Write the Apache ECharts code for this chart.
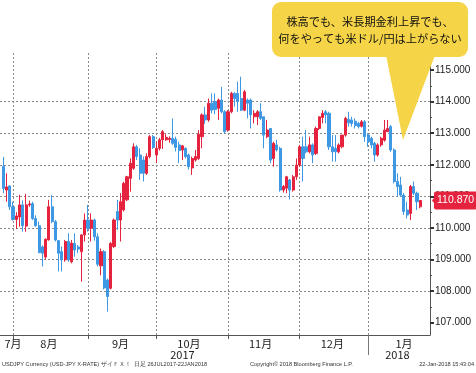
<!DOCTYPE html>
<html><head><meta charset="utf-8">
<script src="https://cdn.jsdelivr.net/npm/echarts@6/dist/echarts.min.js"></script>
<style>html,body{margin:0;padding:0;background:#fff}#c{width:476px;height:373px}</style>
</head><body><div id="c"></div>
<script>
// Trading-day categories (first slot is an empty slot before the data starts; last slots are empty future days)
const dates = [
'2017-07-25','2017-07-26','2017-07-27','2017-07-28','2017-07-31',
'2017-08-01','2017-08-02','2017-08-03','2017-08-04','2017-08-07','2017-08-08','2017-08-09','2017-08-10','2017-08-11',
'2017-08-14','2017-08-15','2017-08-16','2017-08-17','2017-08-18','2017-08-21','2017-08-22','2017-08-23','2017-08-24','2017-08-25',
'2017-08-28','2017-08-29','2017-08-30','2017-08-31',
'2017-09-01','2017-09-04','2017-09-05','2017-09-06','2017-09-07','2017-09-08','2017-09-11','2017-09-12','2017-09-13','2017-09-14','2017-09-15',
'2017-09-18','2017-09-19','2017-09-20','2017-09-21','2017-09-22','2017-09-25','2017-09-26','2017-09-27','2017-09-28','2017-09-29',
'2017-10-02','2017-10-03','2017-10-04','2017-10-05','2017-10-06','2017-10-09','2017-10-10','2017-10-11','2017-10-12','2017-10-13',
'2017-10-16','2017-10-17','2017-10-18','2017-10-19','2017-10-20','2017-10-23','2017-10-24','2017-10-25','2017-10-26','2017-10-27','2017-10-30','2017-10-31',
'2017-11-01','2017-11-02','2017-11-03','2017-11-06','2017-11-07','2017-11-08','2017-11-09','2017-11-10','2017-11-13','2017-11-14','2017-11-15','2017-11-16','2017-11-17',
'2017-11-20','2017-11-21','2017-11-22','2017-11-23','2017-11-24','2017-11-27','2017-11-28','2017-11-29','2017-11-30',
'2017-12-01','2017-12-04','2017-12-05','2017-12-06','2017-12-07','2017-12-08','2017-12-11','2017-12-12','2017-12-13','2017-12-14','2017-12-15',
'2017-12-18','2017-12-19','2017-12-20','2017-12-21','2017-12-22','2017-12-25','2017-12-26','2017-12-27','2017-12-28','2017-12-29',
'2018-01-01','2018-01-02','2018-01-03','2018-01-04','2018-01-05','2018-01-08','2018-01-09','2018-01-10','2018-01-11','2018-01-12',
'2018-01-15','2018-01-16','2018-01-17','2018-01-18','2018-01-19','2018-01-22','2018-01-23','2018-01-24','2018-01-25'
];
const firstDataIndex = 1; // 2017-07-26

const opens = [
111.95,111.20,111.33,110.67,110.27,110.35,110.73,110.06,110.73,110.77,110.30,110.07,109.40,109.08,109.62,110.67,110.20,109.60,109.25,108.99,
109.57,108.93,109.51,109.40,109.25,109.78,110.25,109.99,110.25,109.72,108.80,109.25,108.35,108.09,109.41,110.52,110.25,110.57,110.89,111.57,
111.89,112.57,112.31,112.15,111.73,112.26,112.89,112.31,112.52,112.79,112.79,112.80,112.84,112.81,112.63,112.47,112.52,112.31,111.90,112.15,
112.20,112.89,113.58,113.42,113.95,114.00,113.79,114.05,113.68,113.10,113.68,114.26,114.26,114.10,113.73,114.05,114.05,113.52,113.52,113.68,
113.52,112.89,113.15,112.20,112.63,112.52,111.20,111.26,111.52,111.20,111.62,111.99,112.57,112.57,112.41,112.63,112.36,113.15,113.50,113.68,
113.63,112.57,112.52,112.41,112.57,112.94,113.44,113.42,113.38,113.31,113.22,113.36,112.94,112.84,112.68,112.31,112.63,112.78,113.05,113.21,
112.47,111.47,111.36,111.04,110.57,110.46,111.31,111.10,110.67
];
const closes = [
111.25,111.30,110.67,110.27,110.38,110.73,110.07,110.73,110.76,110.30,110.07,109.22,109.20,109.64,110.67,110.20,109.62,109.20,108.99,109.57,
108.99,109.52,109.30,109.33,109.78,110.25,109.99,110.25,109.72,108.85,109.25,108.10,107.83,109.51,110.25,110.25,110.83,111.41,111.62,112.05,
112.57,112.26,111.73,111.73,112.26,112.89,112.55,112.52,112.79,113.05,112.87,112.84,112.68,112.55,112.45,112.60,112.26,111.94,112.20,112.26,
112.97,113.58,113.42,113.95,113.73,113.75,114.05,113.68,113.05,113.68,114.26,114.10,114.00,113.73,114.31,113.95,113.58,113.63,113.68,113.47,
112.94,113.10,112.15,112.68,112.47,111.20,111.31,111.62,111.20,111.62,111.99,112.57,112.20,112.41,112.63,112.31,113.15,113.52,113.63,113.58,
112.57,112.41,112.41,112.63,112.94,113.47,113.33,113.31,113.24,113.21,113.36,112.89,112.73,112.63,112.31,112.63,112.84,113.10,113.15,112.47,
111.47,111.31,111.04,110.52,110.41,111.31,111.10,110.83,110.87
];
const lows = [
111.10,110.83,110.57,110.23,109.97,110.04,109.88,109.88,110.67,110.25,110.04,109.20,108.78,109.00,109.60,110.15,109.57,108.62,108.62,108.93,
108.93,108.88,109.09,109.20,108.30,109.57,109.88,109.57,109.60,108.78,108.50,108.05,107.35,108.05,109.36,109.94,109.57,110.52,110.85,111.15,
111.84,112.15,111.52,111.47,111.68,112.20,112.50,112.05,112.45,112.50,112.76,112.70,112.63,112.42,112.05,112.15,112.20,111.85,111.68,112.10,
112.15,112.52,113.30,113.36,113.63,113.60,113.42,113.63,113.00,113.05,113.63,113.84,113.68,113.70,113.70,113.47,113.15,113.31,113.26,113.42,
112.52,112.84,112.05,111.94,112.42,111.15,111.12,111.10,110.90,111.15,111.52,111.94,111.47,112.36,112.36,112.05,112.31,113.10,113.31,113.31,
112.47,112.10,112.10,112.36,112.52,112.89,113.21,113.21,113.15,113.15,113.18,112.73,112.57,112.52,112.10,112.26,112.57,112.73,113.05,112.41,
111.41,111.00,110.99,110.41,110.30,110.25,111.04,110.57,110.62
];
const highs = [
112.25,111.73,111.35,110.83,110.50,111.05,110.87,111.08,110.87,110.83,110.40,110.20,109.45,109.67,110.89,111.04,110.25,109.62,109.41,109.62,
109.83,109.62,109.83,109.46,109.80,110.46,110.73,110.46,110.30,109.83,109.35,109.30,108.40,109.55,110.30,110.89,111.10,111.46,111.65,112.20,
112.68,112.63,112.52,112.26,112.36,112.94,112.94,112.73,112.85,113.10,112.97,112.90,113.47,112.89,112.73,112.63,112.55,112.36,112.26,112.47,
113.10,113.63,113.84,114.10,114.26,114.26,114.10,114.47,113.73,113.73,114.31,114.30,114.63,114.79,114.37,114.10,114.10,113.73,113.73,113.95,
113.52,113.42,113.15,112.73,112.79,112.57,111.36,111.65,111.55,111.68,112.20,112.63,112.89,113.10,112.89,112.68,113.21,113.52,113.73,113.73,
113.68,112.94,112.94,112.68,112.94,113.52,113.68,113.52,113.47,113.36,113.42,113.42,113.00,112.89,112.73,112.68,112.89,113.42,113.42,113.26,
112.52,111.73,111.62,111.10,110.83,111.36,111.47,111.15,110.88
];

const majorTicks = [107,108,109,110,111,112,113,114,115];
const minorTicks = [107.5,108.5,109.5,110.5,111.5,112.5,113.5,114.5];
const monthNames = ['1月','2月','3月','4月','5月','6月','7月','8月','9月','10月','11月','12月'];
const calloutText = ['株高でも、米長期金利上昇でも、','何をやっても米ドル/円は上がらない'];
const footerLeft = 'USDJPY Currency (USD-JPY X-RATE) ザイＦＸ！  日足 26JUL2017-22JAN2018';
const footerMid = 'Copyright\u00A9 2018 Bloomberg Finance L.P.';
const footerRight = '22-Jan-2018 15:43:04';

const UP = '#e5233f', DOWN = '#3f98e4';

const candles = dates.map((d, i) => {
  const j = i - firstDataIndex;
  if (j < 0 || j >= opens.length) return ['-','-','-','-'];
  return [opens[j], closes[j], lows[j], highs[j]];
});
const lastClose = closes[closes.length - 1];

// month / year helpers
const ym = d => d.slice(0, 7);
const mon = d => parseInt(d.slice(5, 7), 10);
const yr = d => d.slice(0, 4);
function isMonthEnd(i) { return i < dates.length - 1 && ym(dates[i]) !== ym(dates[i + 1]); }
function isYearEnd(i) { return i < dates.length - 1 && yr(dates[i]) !== yr(dates[i + 1]); }
function weekdaysInMonth(y, m) {
  let n = 0; const d = new Date(Date.UTC(y, m, 1));
  while (d.getUTCMonth() === m) { const w = d.getUTCDay(); if (w > 0 && w < 6) n++; d.setUTCDate(d.getUTCDate() + 1); }
  return n;
}
function weekdayOrdinal(s) {
  const y = +s.slice(0,4), m = +s.slice(5,7) - 1, day = +s.slice(8,10);
  let n = 0; const d = new Date(Date.UTC(y, m, 1));
  while (d.getUTCDate() <= day && d.getUTCMonth() === m) { const w = d.getUTCDay(); if (w > 0 && w < 6) n++; d.setUTCDate(d.getUTCDate() + 1); }
  return n;
}
const monthLabelIdx = new Set();
(function () {
  const seen = {};
  dates.forEach((d, i) => { const k = ym(d); if (!seen[k]) seen[k] = { first: i, last: i }; else seen[k].last = i; });
  Object.keys(seen).forEach(k => {
    const s = seen[k];
    const y = +k.slice(0, 4), m = +k.slice(5, 7) - 1;
    const start = s.first - (weekdayOrdinal(dates[s.first]) - 1);
    const end = start + weekdaysInMonth(y, m) - 1;
    let mid = Math.floor((start - 1 + end) / 2 - 0.25);
    if (mid < 0 || mid > dates.length - 1) mid = s.last;
    monthLabelIdx.add(mid);
  });
})();
const yearLabelIdx = new Set();
(function () {
  const seen = {};
  dates.forEach((d, i) => { const k = yr(d); if (!seen[k]) seen[k] = { first: i, last: i }; else seen[k].last = i; });
  Object.keys(seen).forEach(k => {
    const s = seen[k];
    const a = s.first > 0 ? s.first - 1 : 0;
    yearLabelIdx.add(Math.floor((a + s.last) / 2));
  });
})();

const chart = echarts.init(document.getElementById('c'), null, { renderer: 'canvas' });
const axisFont = 'Liberation Sans, Arial, sans-serif';
const cjkFont = '"Noto Sans CJK JP", sans-serif';

chart.setOption({
  animation: false,
  backgroundColor: '#fff',
  grid: { left: 0, right: 46, top: 53, bottom: 38, containLabel: false },
  xAxis: [{
    type: 'category', data: dates, boundaryGap: false,
    axisLine: { show: true, lineStyle: { color: '#555', width: 1 } },
    axisTick: { show: true, interval: (i) => isMonthEnd(i), length: 4, lineStyle: { color: '#555' } },
    axisLabel: {
      show: true, interval: (i) => monthLabelIdx.has(i),
      formatter: (v) => monthNames[mon(v) - 1],
      fontSize: 11, color: '#222', fontFamily: cjkFont, margin: 3
    },
    splitLine: { show: true, interval: (i) => isMonthEnd(i), lineStyle: { color: '#8a8a8a', type: [2, 2], width: 1 } }
  }, {
    type: 'category', data: dates, boundaryGap: false, position: 'bottom',
    axisLine: { show: false },
    axisTick: { show: true, interval: (i) => isYearEnd(i), length: 20, lineStyle: { color: '#777' } },
    axisLabel: {
      show: true, interval: (i) => yearLabelIdx.has(i),
      formatter: (v) => yr(v), fontSize: 11, color: '#222', fontFamily: cjkFont, margin: 14
    },
    splitLine: { show: false }
  }],
  yAxis: [{
    type: 'value', position: 'right', min: 106.61, max: 115.54, scale: true,
    axisLine: { show: true, lineStyle: { color: '#555', width: 1 } },
    axisTick: { show: true, customValues: majorTicks, length: 4, lineStyle: { color: '#333', width: 2 } },
    axisLabel: { show: true, customValues: majorTicks, formatter: (v) => v.toFixed(3), fontSize: 10, color: '#222', fontFamily: axisFont, margin: 5 },
    splitLine: { show: true, showMinLine: false, showMaxLine: false, lineStyle: { color: '#8a8a8a', type: [2, 2], width: 1 } }
  }, {
    type: 'value', position: 'right', min: 106.61, max: 115.54, scale: true,
    axisLine: { show: false },
    axisTick: { show: true, customValues: minorTicks, length: 2, lineStyle: { color: '#555', width: 1 } },
    axisLabel: { show: false },
    splitLine: { show: false }
  }],
  series: [{
    type: 'candlestick', xAxisIndex: 0, yAxisIndex: 0, z: 5,
    data: candles, barWidth: 2.6,
    itemStyle: { color: UP, color0: DOWN, borderColor: UP, borderColor0: DOWN, borderWidth: 1 },
    markLine: {
      silent: true, symbol: ['none', 'none'], z: 10,
      lineStyle: { color: 'rgba(0,0,0,0)', width: 0 },
      data: [{ yAxis: lastClose }],
      label: {
        show: true, position: 'end', distance: 4,
        formatter: (p) => Number(p.value).toFixed(3),
        color: '#fff', backgroundColor: UP, padding: [4, 3, 3, 3], borderRadius: 2,
        fontSize: 10.5, fontFamily: axisFont
      }
    },
    markPoint: {
      silent: true, z: 10,
      data: [{ coord: [dates[dates.length - 1], lastClose], symbol: 'triangle', symbolSize: [15, 6], symbolRotate: 90, symbolOffset: [5, 0],
               itemStyle: { color: UP }, label: { show: false } }]
    }
  }],
  graphic: [
    { type: 'rect', z: 100, shape: { x: 272, y: 2, width: 196, height: 55, r: 9 }, style: { fill: '#f6d447' } },
    { type: 'polygon', z: 100, shape: { points: [[385, 50], [437, 50], [403, 140]] }, style: { fill: '#f6d447' } },
    { type: 'text', z: 101, style: { text: calloutText.join('\n'), x: 370, y: 30, align: 'center', verticalAlign: 'middle',
        font: '11.2px "Noto Sans CJK JP", sans-serif', lineHeight: 17, fill: '#111' } },
    { type: 'text', z: 101, style: { text: footerLeft, x: 2, y: 364, verticalAlign: 'middle', font: '5.6px "Liberation Sans", sans-serif', fill: '#333' } },
    { type: 'text', z: 101, style: { text: footerMid, x: 250, y: 364, verticalAlign: 'middle', font: '5.6px "Liberation Sans", sans-serif', fill: '#333' } },
    { type: 'text', z: 101, style: { text: footerRight, x: 474, y: 364, align: 'right', verticalAlign: 'middle', font: '5.6px "Liberation Sans", sans-serif', fill: '#333' } }
  ]
});
</script>
</body></html>
